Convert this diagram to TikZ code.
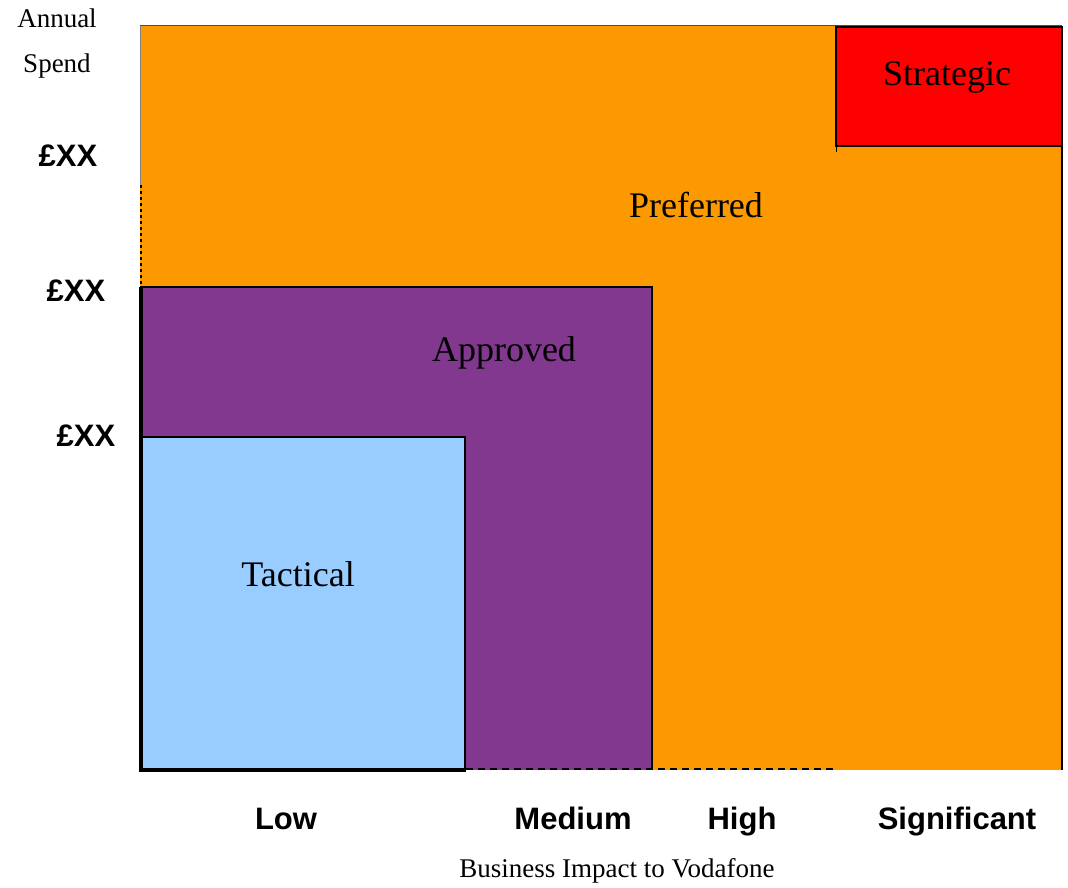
\documentclass[tikz,border=0pt]{standalone}
\usepackage{fontspec}
\setmainfont{Liberation Serif}
\newfontfamily\axisfont{Liberation Sans}
\definecolor{prefOrange}{HTML}{FC9900}
\definecolor{apprPurple}{HTML}{81388E}
\definecolor{tactBlue}{HTML}{99CCFF}
\definecolor{stratRed}{HTML}{FF0000}
\begin{document}
\begin{tikzpicture}[x=1pt,y=-1pt,
  zone/.style={font=\fontsize{36}{40}\selectfont, inner sep=0pt, anchor=base},
  axlabel/.style={font=\axisfont\bfseries\fontsize{31}{34}\selectfont, inner sep=0pt, anchor=base},
  small/.style={font=\fontsize{27}{30}\selectfont, inner sep=0pt, anchor=base}]
\useasboundingbox (0,0) rectangle (1068,888);
% Preferred (orange)
\fill[prefOrange] (140,26) rectangle (1062,770);
\draw[line width=1pt, black!70] (140,26) -- (1062,26);
\draw[line width=1.5pt] (1062,26) -- (1062,770);
\draw[line width=0.8pt, black!50] (140,26) -- (140,185);
\draw[line width=1.5pt, dashed] (141,185) -- (141,437);
% Approved (purple)
\fill[apprPurple] (140,287) rectangle (652,770);
\draw[line width=2pt] (140,287) -- (652,287) -- (652,770);
% Tactical (blue)
\fill[tactBlue] (141,437) rectangle (465,768);
\draw[line width=2pt] (141,437) -- (465,437) -- (465,768);
% Strategic (red)
\filldraw[fill=stratRed, draw=black, line width=2.5pt] (836,27) rectangle (1062,146);
\draw[line width=1pt] (836,146) -- (836,152);
% axes
\draw[line width=4pt] (141,287) -- (141,770) -- (466,770);
\draw[line width=2pt, dashed, dash pattern=on 7pt off 5pt] (466,769) -- (835,769);
% zone labels
\node[zone] (strat) at (947,86) {Strategic};
\node[zone] (pref) at (696,217) {Preferred};
\node[zone] (appr) at (504,361) {Approved};
\node[zone] (tact) at (298,586) {Tactical};
% y-axis labels
\node[small] (annual) at (57,28) {Annual};
\node[small] (spend) at (57,73) {Spend};
\node[axlabel] (y1) at (68,166) {£XX};
\node[axlabel] (y2) at (76,301) {£XX};
\node[axlabel] (y3) at (86,446) {£XX};
% x-axis labels
\node[axlabel] (low) at (286,829) {Low};
\node[axlabel] (med) at (573,829) {Medium};
\node[axlabel] (high) at (742,829) {High};
\node[axlabel] (sig) at (957,829) {Significant};
\node[small] (xtitle) at (617,877) {Business Impact to Vodafone};
\end{tikzpicture}
\end{document}
